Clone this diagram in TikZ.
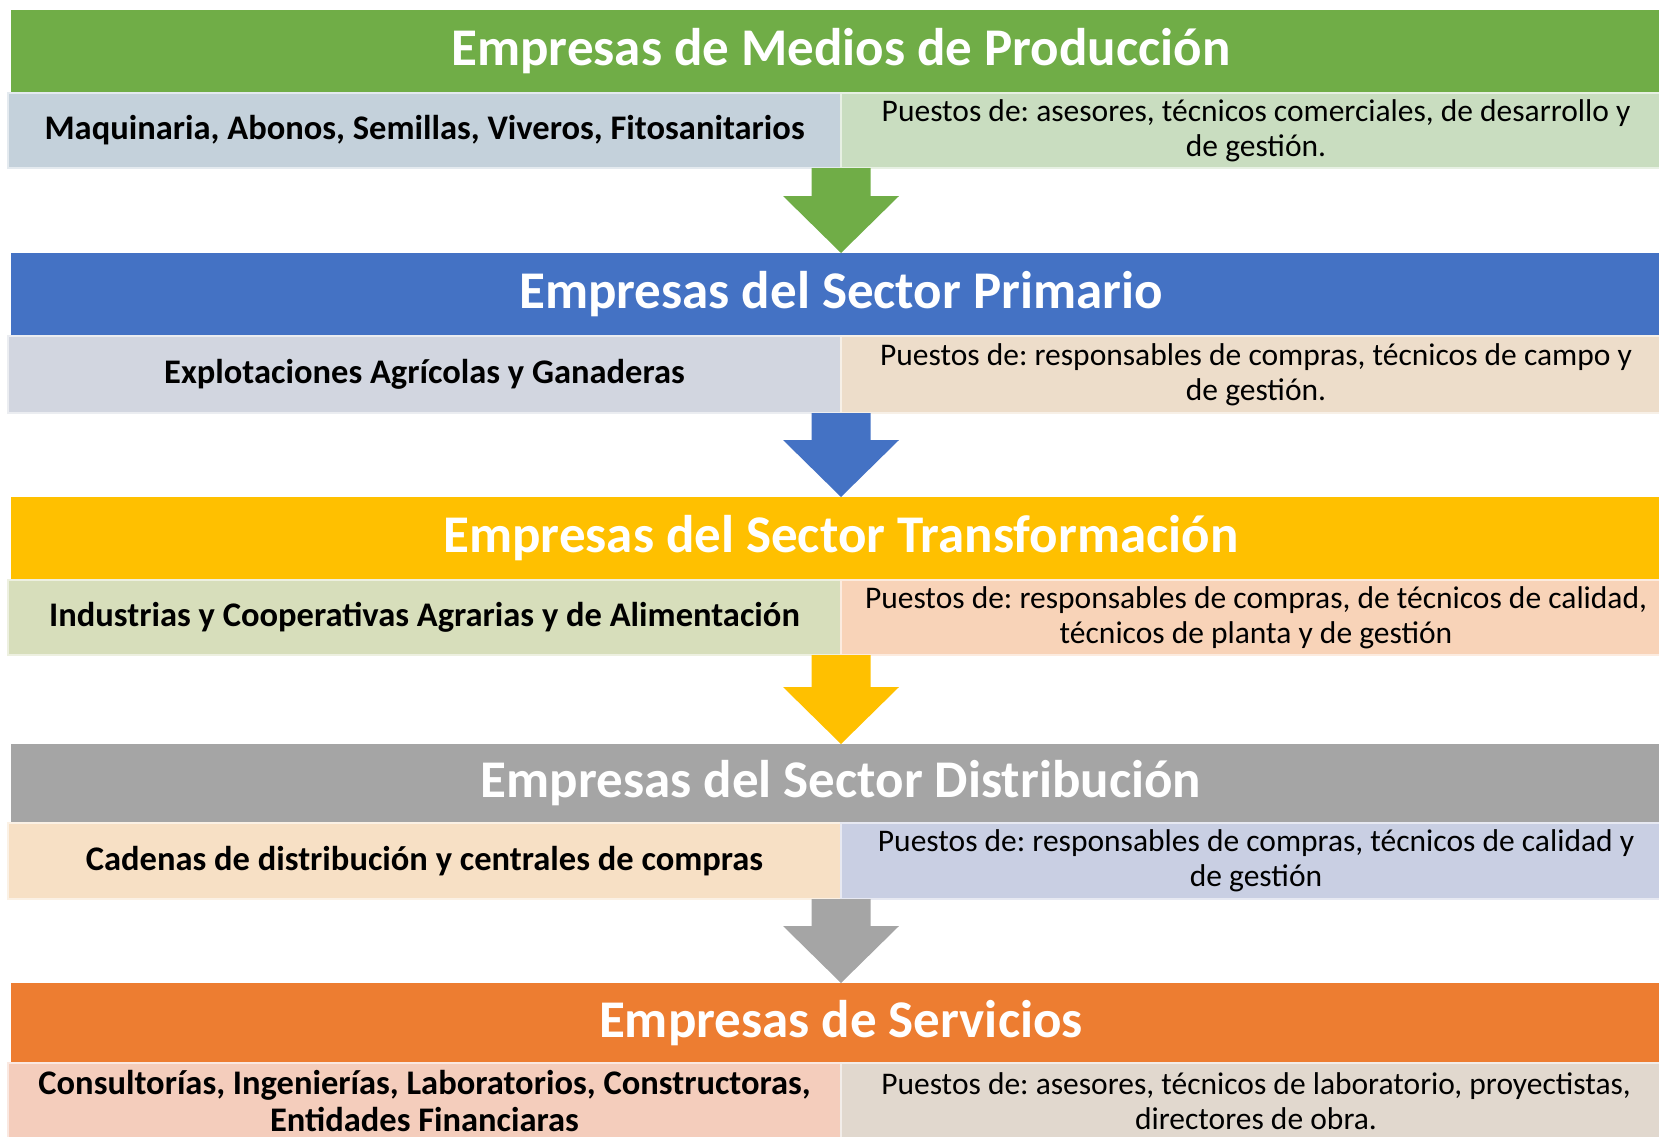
\documentclass[tikz,border=0pt]{standalone}
\usepackage{fontspec}
\setmainfont{Carlito}
\frenchspacing
\usetikzlibrary{calc}

\definecolor{verdeO}{HTML}{70AD47}
\definecolor{azulO}{HTML}{4472C4}
\definecolor{amarilloO}{HTML}{FFC000}
\definecolor{grisO}{HTML}{A5A5A5}
\definecolor{naranjaO}{HTML}{ED7D31}
\definecolor{izqA}{HTML}{C4D1DB}
\definecolor{izqB}{HTML}{D2D6E0}
\definecolor{izqC}{HTML}{D7DEBB}
\definecolor{izqD}{HTML}{F7E0C5}
\definecolor{izqE}{HTML}{F4CDBC}
\definecolor{derA}{HTML}{C9DDC0}
\definecolor{derB}{HTML}{EDDDCA}
\definecolor{derC}{HTML}{F8D3B8}
\definecolor{derD}{HTML}{C9CFE3}
\definecolor{derE}{HTML}{E1D8CE}

\begin{document}
\begin{tikzpicture}[
  x=1pt, y=-1pt,
  titulo/.style={anchor=north west, minimum width=1660pt, inner sep=0pt, outer sep=0pt, fill=#1, text=white, font=\fontsize{53}{60}\selectfont\bfseries},
  celdaizq/.style={anchor=north west, minimum width=833pt, minimum height=76pt, inner sep=0pt, outer sep=0pt, fill=#1, draw=#1!45!white, line width=2pt, align=center, font=\fontsize{34.5}{37}\selectfont\bfseries},
  celdader/.style={anchor=north west, minimum width=830pt, minimum height=76pt, inner sep=0pt, outer sep=0pt, fill=#1, draw=#1!45!white, line width=2pt, align=center, font=\fontsize{31.5}{35}\selectfont},
]
  \useasboundingbox (0,0) rectangle (1659,1137);
  \clip (0,0) rectangle (1659,1137);

  % bloque 1
  \node[titulo=verdeO, minimum height=83pt] (tit1) at (11,10) {Empresas de Medios de Producción};
  \node[celdaizq=izqA, minimum height=75pt] (izq1) at ($(tit1.south west)+(-3,0)$) {Maquinaria, Abonos, Semillas, Viveros, Fitosanitarios};
  \node[celdader=derA, minimum height=75pt] (der1) at (izq1.north east) {Puestos de: asesores, técnicos comerciales, de desarrollo y\\de gestión.};

  % bloque 2
  \node[titulo=azulO, minimum height=83pt] (tit2) at (11,253) {Empresas del Sector Primario};
  \node[celdaizq=izqB, minimum height=77pt] (izq2) at ($(tit2.south west)+(-3,0)$) {Explotaciones Agrícolas y Ganaderas};
  \node[celdader=derB, minimum height=77pt] (der2) at (izq2.north east) {Puestos de: responsables de compras, técnicos de campo y\\de gestión.};

  % bloque 3
  \node[titulo=amarilloO, minimum height=83pt] (tit3) at (11,497) {Empresas del Sector Transformación};
  \node[celdaizq=izqC, minimum height=75pt] (izq3) at ($(tit3.south west)+(-3,0)$) {Industrias y Cooperativas Agrarias y de Alimentación};
  \node[celdader=derC, minimum height=75pt] (der3) at (izq3.north east) {Puestos de: responsables de compras, de técnicos de calidad,\\técnicos de planta y de gestión};

  % bloque 4
  \node[titulo=grisO, minimum height=79pt] (tit4) at (11,744) {Empresas del Sector Distribución};
  \node[celdaizq=izqD] (izq4) at ($(tit4.south west)+(-3,0)$) {Cadenas de distribución y centrales de compras};
  \node[celdader=derD] (der4) at (izq4.north east) {Puestos de: responsables de compras, técnicos de calidad y\\de gestión};

  % bloque 5
  \node[titulo=naranjaO, minimum height=80pt] (tit5) at (11,983) {Empresas de Servicios};
  \node[celdaizq=izqE] (izq5) at ($(tit5.south west)+(-3,0)$) {Consultorías, Ingenierías, Laboratorios, Constructoras,\\Entidades Financiaras};
  \node[celdader=derE] (der5) at (izq5.north east) {Puestos de: asesores, técnicos de laboratorio, proyectistas,\\directores de obra.};

  % flechas
  \foreach \de/\a/\col in {izq1/tit2/verdeO, izq2/tit3/azulO, izq3/tit4/amarilloO, izq4/tit5/grisO}
    \fill[\col] let \p1=(\de.south east), \p2=(\a.north) in
      (\x1-29.5pt,\y1) -- (\x1+29.5pt,\y1) -- (\x1+29.5pt,\y2+57pt) -- (\x1+58pt,\y2+57pt)
      -- (\x1,\y2) -- (\x1-58pt,\y2+57pt) -- (\x1-29.5pt,\y2+57pt) -- cycle;
\end{tikzpicture}
\end{document}
